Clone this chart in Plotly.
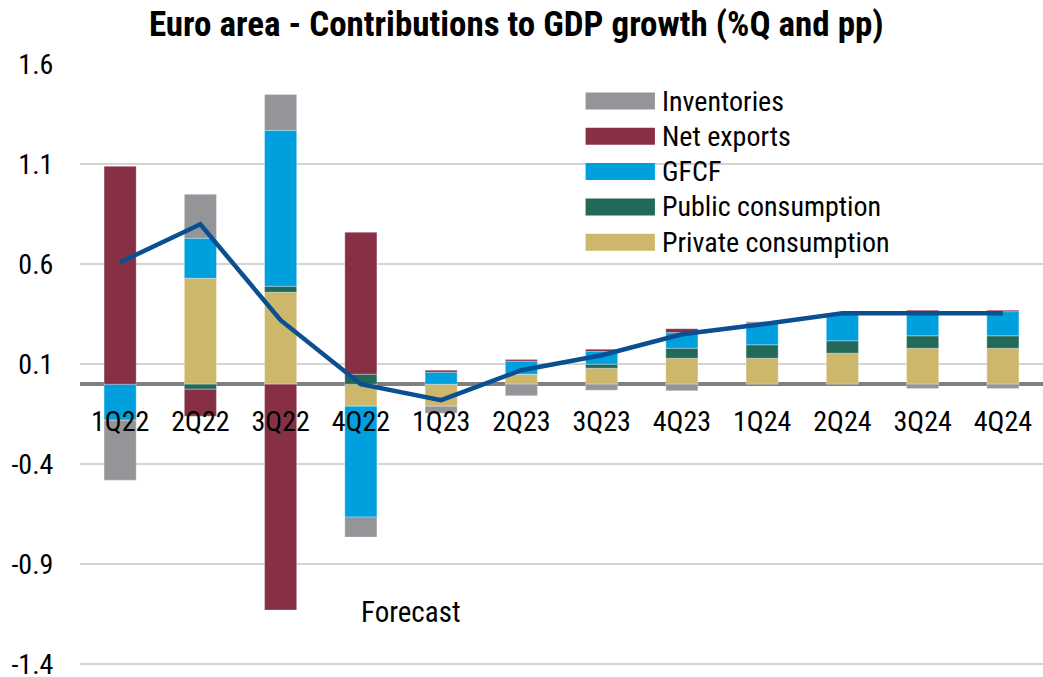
import plotly.graph_objects as go

quarters = ["1Q22", "2Q22", "3Q22", "4Q22", "1Q23", "2Q23",
            "3Q23", "4Q23", "1Q24", "2Q24", "3Q24", "4Q24"]

# Contributions to quarterly GDP growth, percentage points
private_consumption = [0.00, 0.53, 0.46, -0.11, -0.11, 0.05, 0.08, 0.13, 0.13, 0.155, 0.18, 0.18]
public_consumption = [0.00, -0.025, 0.03, 0.05, 0.00, 0.00, 0.02, 0.05, 0.067, 0.062, 0.062, 0.062]
gfcf = [-0.18, 0.20, 0.78, -0.555, 0.06, 0.065, 0.064, 0.078, 0.11, 0.136, 0.121, 0.121]
net_exports = [1.09, -0.135, -1.13, 0.71, 0.01, 0.008, 0.011, 0.02, 0.005, 0.00, 0.007, 0.007]
inventories = [-0.30, 0.22, 0.18, -0.10, -0.035, -0.058, -0.03, -0.033, 0.00, 0.00, -0.022, -0.022]
gdp_growth = [0.61, 0.80, 0.32, 0.00, -0.08, 0.07, 0.145, 0.25, 0.30, 0.355, 0.355, 0.355]

y_ticks = [1.6, 1.1, 0.6, 0.1, -0.4, -0.9, -1.4]

series = [
    ("Private consumption", private_consumption, "#CDB76A"),
    ("Public consumption", public_consumption, "#22695A"),
    ("GFCF", gfcf, "#00A0DF"),
    ("Net exports", net_exports, "#873045"),
    ("Inventories", inventories, "#949599"),
]

FONT = "Roboto Condensed, Liberation Sans Narrow, DejaVu Sans Condensed, Roboto, sans-serif"

Y_MIN, Y_MAX = -1.43, 1.602
PLOT_TOP, PLOT_H = 64, 606

fig = go.Figure()
for name, vals, col in series:
    fig.add_trace(go.Bar(
        x=quarters, y=vals, name=name, width=0.4,
        marker=dict(color=col, line=dict(color="rgba(255,255,255,0.6)", width=0.5)),
        showlegend=False,
    ))

fig.add_trace(go.Scatter(
    x=quarters, y=gdp_growth, mode="lines", name="GDP growth",
    line=dict(color="#0B4F93", width=4.5), showlegend=False,
))

# Legend drawn as wide swatches with labels (top to bottom), placed in pixels
def py(pix):
    return 1 - (pix - PLOT_TOP) / PLOT_H

legend_items = list(reversed(series))
for i, (name, _, col) in enumerate(legend_items):
    yc = 101 + i * 35.3
    fig.add_shape(type="rect", xref="paper", yref="paper",
                  x0=0.525, x1=0.597, y0=py(yc + 8.5), y1=py(yc - 8.5),
                  fillcolor=col, line=dict(width=0))
    fig.add_annotation(xref="paper", yref="paper", x=0.602, y=py(yc),
                       text=name, showarrow=False, xanchor="left", yanchor="middle",
                       font=dict(family=FONT, size=28, color="black"))

fig.add_annotation(x="4Q22", y=-1.14, text="Forecast", showarrow=False,
                   xanchor="left", yanchor="middle", xshift=-2,
                   font=dict(family=FONT, size=29, color="black"))

fig.update_layout(
    width=1043, height=677,
    margin=dict(l=80, r=0, t=PLOT_TOP, b=677 - PLOT_TOP - PLOT_H),
    paper_bgcolor="white", plot_bgcolor="white",
    barmode="relative", bargap=0.6,
    title=dict(text="<b>Euro area - Contributions to GDP growth (%Q and pp)</b>",
               x=0.495, xanchor="center", y=0.965, yanchor="middle",
               font=dict(family=FONT, size=35, color="black")),
    font=dict(family=FONT, color="black"),
)

fig.update_yaxes(
    range=[Y_MIN, Y_MAX], tickvals=y_ticks, ticktext=[f"{v:g}" for v in y_ticks],
    showgrid=True, gridcolor="#D4D4D4", gridwidth=1.5,
    zeroline=True, zerolinecolor="#7F7F7F", zerolinewidth=4,
    ticks="outside", ticklen=20, tickcolor="rgba(0,0,0,0)",
    tickfont=dict(family=FONT, size=28, color="black"),
    ticklabeloverflow="allow", automargin=False,
    showline=False, fixedrange=True,
)
fig.update_xaxes(
    anchor="free", position=-Y_MIN / (Y_MAX - Y_MIN),
    showgrid=False, showline=False, ticks="outside", ticklen=12,
    tickcolor="rgba(0,0,0,0)",
    tickfont=dict(family=FONT, size=28, color="black"),
    automargin=False, fixedrange=True,
)

fig.write_html("out.html")
